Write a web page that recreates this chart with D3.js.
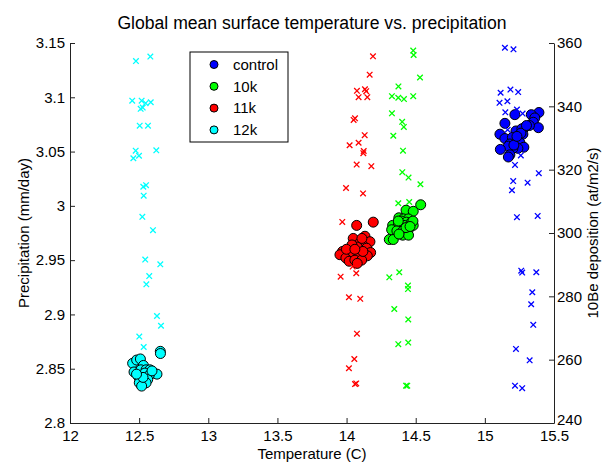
<!DOCTYPE html>
<html>
<head>
<meta charset="utf-8">
<script src="https://cdn.jsdelivr.net/npm/d3@7"></script>
<style>
  body { margin: 0; background: #fff; }
  text { font-family: "Liberation Sans", Arial, sans-serif; fill: #000; }
</style>
</head>
<body>
<div id="content"></div>
<script>
// circles: temperature (C) vs precipitation (mm/day), left axis
const controlT = [15.391, 15.336, 15.361, 15.350, 15.387, 15.322, 15.286, 15.217, 15.145, 15.225,
    15.109, 15.145, 15.199, 15.250, 15.275, 15.228, 15.181, 15.254, 15.282, 15.239,
    15.203, 15.170, 15.112, 15.181, 15.170, 15.268, 15.261, 15.301, 15.210, 15.232];
const controlP = [3.086, 3.084, 3.081, 3.077, 3.072, 3.074, 3.072, 3.084, 3.076, 3.069,
    3.066, 3.062, 3.063, 3.064, 3.066, 3.059, 3.057, 3.058, 3.054, 3.053,
    3.053, 3.055, 3.052, 3.047, 3.045, 3.071, 3.067, 3.074, 3.056, 3.064];
const k10T = [14.536, 14.430, 14.482, 14.378, 14.411, 14.447, 14.396, 14.433, 14.469, 14.482,
    14.333, 14.374, 14.415, 14.326, 14.364, 14.408, 14.446, 14.406, 14.448, 14.309,
    14.338, 14.480, 14.374, 14.430, 14.379, 14.459];
const k10P = [3.001, 2.996, 2.995, 2.989, 2.988, 2.988, 2.986, 2.985, 2.985, 2.982,
    2.982, 2.982, 2.982, 2.978, 2.977, 2.977, 2.978, 2.973, 2.973, 2.969,
    2.969, 2.986, 2.986, 2.980, 2.974, 2.981];
const k11T = [14.073, 14.193, 14.048, 14.133, 14.169, 14.097, 14.122, 14.145, 14.077, 14.019,
    13.971, 13.952, 13.995, 14.048, 14.092, 14.174, 14.150, 14.019, 14.060, 14.109,
    14.077, 14.118, 14.039, 13.999, 14.060, 14.111];
const k11P = [2.982, 2.985, 2.970, 2.972, 2.967, 2.966, 2.963, 2.961, 2.962, 2.959,
    2.958, 2.955, 2.952, 2.957, 2.955, 2.957, 2.954, 2.949, 2.950, 2.950,
    2.947, 2.958, 2.964, 2.960, 2.960, 2.970];
const k12T = [12.453, 12.482, 12.509, 12.531, 12.463, 12.513, 12.550, 12.578, 12.602, 12.629,
    12.542, 12.494, 12.573, 12.506, 12.562, 12.501, 12.550, 12.518, 12.653, 12.654,
    12.593, 12.528, 12.481];
const k12P = [2.855, 2.858, 2.859, 2.853, 2.847, 2.849, 2.849, 2.849, 2.846, 2.845,
    2.846, 2.843, 2.844, 2.840, 2.840, 2.837, 2.837, 2.834, 2.866, 2.864,
    2.848, 2.842, 2.845];

// crosses: temperature (C) vs 10Be deposition (at/m2/s), right axis
const controlBeT = [15.145, 15.207, 15.114, 15.185, 15.241, 15.106, 15.163, 15.148, 15.232, 15.273,
    15.165, 15.260, 15.218, 15.390, 15.205, 15.309, 15.196, 15.232, 15.382, 15.263,
    15.270, 15.372, 15.343, 15.335, 15.350, 15.225, 15.324, 15.218, 15.270];
const controlBe = [358.5, 358.0, 344.3, 345.3, 344.5, 341.1, 341.6, 338.1, 339.0, 337.7,
    332.6, 324.5, 321.5, 318.9, 316.4, 315.9, 313.5, 305.0, 305.4, 288.1,
    287.5, 287.6, 281.3, 277.5, 271.0, 263.4, 259.8, 251.8, 251.0];
const k10BeT = [14.482, 14.485, 14.531, 14.375, 14.328, 14.374, 14.415, 14.482, 14.328, 14.402,
    14.414, 14.338, 14.408, 14.403, 14.448, 14.534, 14.374, 14.453, 14.309, 14.381,
    14.444, 14.444, 14.345, 14.446, 14.374, 14.446, 14.430, 14.439];
const k10Be = [357.6, 356.2, 349.1, 346.3, 343.2, 342.7, 342.3, 343.2, 337.8, 335.1,
    333.5, 330.7, 326.0, 319.2, 317.5, 315.4, 309.4, 309.8, 286.0, 287.6,
    283.4, 282.3, 276.0, 272.7, 264.9, 265.4, 251.8, 251.8];
const k11BeT = [14.191, 14.167, 14.075, 14.133, 14.142, 14.087, 14.150, 14.061, 14.051, 14.131,
    14.087, 14.022, 14.124, 14.121, 14.073, 14.179, 13.996, 14.119, 13.969, 14.044,
    14.070, 13.957, 14.017, 14.099, 14.075, 14.056, 14.017, 14.061, 14.070];
const k11Be = [355.8, 350.0, 344.9, 345.4, 344.8, 342.9, 342.9, 336.2, 335.7, 330.9,
    328.5, 327.7, 325.9, 325.2, 321.6, 321.1, 314.2, 312.5, 303.5, 289.4,
    287.3, 286.2, 279.7, 279.2, 268.2, 260.2, 257.3, 252.3, 252.5];
const k12BeT = [12.477, 12.581, 12.450, 12.518, 12.547, 12.584, 12.526, 12.511, 12.504, 12.564,
    12.475, 12.624, 12.499, 12.458, 12.530, 12.550, 12.533, 12.523, 12.600, 12.544,
    12.653, 12.573, 12.552, 12.629, 12.658, 12.501, 12.533];
const k12Be = [354.3, 355.7, 341.8, 341.8, 341.0, 341.3, 339.6, 339.2, 333.9, 333.9,
    326.0, 326.1, 324.4, 323.6, 314.6, 315.1, 311.8, 305.1, 300.9, 291.6,
    290.1, 286.4, 283.8, 273.8, 270.7, 267.3, 264.0];

const seriesNames = ["control", "10k", "11k", "12k"];
const seriesColors = ["#0000ff", "#00ff00", "#ff0000", "#00ffff"];
const xTicks = [12, 12.5, 13, 13.5, 14, 14.5, 15, 15.5];
const yLeftTicks = [2.8, 2.85, 2.9, 2.95, 3, 3.05, 3.1, 3.15];
const yRightTicks = [240, 260, 280, 300, 320, 340, 360];

const circleSets = [[controlT, controlP], [k10T, k10P], [k11T, k11P], [k12T, k12P]];
const crossSets = [[controlBeT, controlBe], [k10BeT, k10Be], [k11BeT, k11Be], [k12BeT, k12Be]];

const svgWidth = 602, svgHeight = 462;
const margin = { top: 43, right: 48, bottom: 39, left: 70 };
const width = svgWidth - margin.left - margin.right;
const height = svgHeight - margin.top - margin.bottom;

const svg = d3.select("#content")
    .append("svg")
    .attr("width", svgWidth)
    .attr("height", svgHeight);
const g = svg.append("g")
    .attr("transform", `translate(${margin.left}, ${margin.top})`);

const x = d3.scaleLinear().domain([12, 15.5]).range([0, width]);
const yLeft = d3.scaleLinear().domain([2.8, 3.15]).range([height, 0]);
const yRight = d3.scaleLinear().domain([240, 360]).range([height, 0]);

// axes, ticks pointing inward like matlab
const fmt = d => String(d);
const xAxis = g.append("g")
    .attr("transform", `translate(0, ${height})`)
    .call(d3.axisBottom(x).tickValues(xTicks).tickFormat(fmt).tickSizeInner(-5).tickSizeOuter(0).tickPadding(7));
const leftAxis = g.append("g")
    .call(d3.axisLeft(yLeft).tickValues(yLeftTicks).tickFormat(fmt).tickSizeInner(-5).tickSizeOuter(0).tickPadding(5));
const rightAxis = g.append("g")
    .attr("transform", `translate(${width}, 0)`)
    .call(d3.axisRight(yRight).tickValues(yRightTicks).tickFormat(fmt).tickSizeInner(-5).tickSizeOuter(0).tickPadding(3));

[xAxis, leftAxis, rightAxis].forEach(a => {
    a.selectAll("path, line").attr("stroke", "#222").attr("stroke-width", 1);
    a.selectAll("text")
        .style("font-family", "'Liberation Sans', Arial, sans-serif")
        .style("font-size", "15px")
        .attr("fill", "#000");
});
xAxis.selectAll("text").attr("dy", "0.71em");
// lowest right label sits just above the 15.5 label
rightAxis.selectAll(".tick text").filter(d => d === 240).attr("dy", "0.1em");

// circles (left axis)
circleSets.forEach((set, i) => {
    g.append("g")
        .selectAll("circle")
        .data(set[0].map((t, j) => ({ t: t, p: set[1][j] })))
        .enter()
        .append("circle")
        .attr("cx", d => x(d.t))
        .attr("cy", d => yLeft(d.p))
        .attr("r", 5)
        .attr("fill", seriesColors[i])
        .attr("stroke", "#000")
        .attr("stroke-width", 1);
});

// crosses (right axis)
const cross = d3.symbol().type(d3.symbolX).size(22);
crossSets.forEach((set, i) => {
    g.append("g")
        .selectAll("path")
        .data(set[0].map((t, j) => ({ t: t, b: set[1][j] })))
        .enter()
        .append("path")
        .attr("d", cross)
        .attr("transform", d => `translate(${x(d.t)}, ${yRight(d.b)})`)
        .attr("fill", "none")
        .attr("stroke", seriesColors[i])
        .attr("stroke-width", 1.3);
});

// title and labels
svg.append("text")
    .text("Global mean surface temperature vs. precipitation")
    .attr("x", margin.left + width / 2)
    .attr("y", 29)
    .style("font-size", "17.6px")
    .style("text-anchor", "middle");

svg.append("text")
    .text("Temperature (C)")
    .attr("x", margin.left + width / 2)
    .attr("y", 458.5)
    .style("font-size", "15px")
    .style("text-anchor", "middle");

svg.append("text")
    .text("Precipitation (mm/day)")
    .attr("transform", `translate(29, ${margin.top + height / 2}) rotate(-90)`)
    .style("font-size", "15px")
    .style("text-anchor", "middle");

svg.append("text")
    .text("10Be deposition (at/m2/s)")
    .attr("transform", `translate(598, ${margin.top + height / 2}) rotate(-90)`)
    .style("font-size", "15px")
    .style("text-anchor", "middle");

// legend
const legend = svg.append("g").attr("transform", "translate(190, 52)");
legend.append("rect")
    .attr("width", 98)
    .attr("height", 90)
    .attr("fill", "#fff")
    .attr("stroke", "#000")
    .attr("stroke-width", 1);
seriesNames.forEach((name, i) => {
    const row = legend.append("g").attr("transform", `translate(0, ${12.5 + i * 21.8})`);
    row.append("circle")
        .attr("cx", 24)
        .attr("r", 4)
        .attr("fill", seriesColors[i])
        .attr("stroke", "#000");
    row.append("text")
        .text(name)
        .attr("x", 43)
        .attr("dy", "0.35em")
        .style("font-size", "15px");
});
</script>
</body>
</html>
